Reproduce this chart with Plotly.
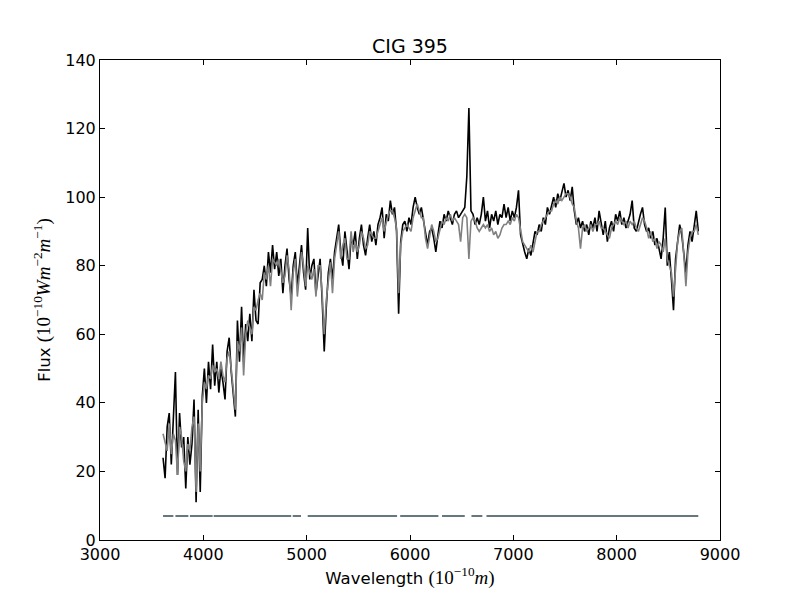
# ── 1. Imports ────────────────────────────────
import numpy as np
import plotly.graph_objects as go

# ── 2. Data ──
# wavelength grid, Angstrom, 20 A step
wave = np.arange(3610, 8800, 20)

flux_obs = [
    24, 18, 33, 37, 22, 34, 49, 19, 37, 27, 30, 15, 30, 22, 28, 41, 11, 38, 14, 42,
    50, 40, 52, 44, 57, 45, 52, 43, 50, 46, 41, 55, 59, 49, 42, 36, 64, 52, 68, 52,
    63, 58, 66, 58, 73, 64, 63, 75, 76, 80, 74, 84, 78, 86, 79, 84, 77, 82, 72, 80,
    85, 76, 71, 80, 84, 74, 80, 86, 78, 73, 91, 76, 80, 82, 72, 78, 82, 70, 55, 68,
    78, 82, 76, 84, 88, 92, 84, 80, 90, 84, 79, 88, 86, 90, 82, 88, 92, 86, 83, 88,
    92, 87, 90, 86, 92, 94, 97, 88, 95, 93, 99, 95, 97, 90, 66, 87, 92, 93, 90, 94,
    92, 97, 100, 97, 95, 97, 93, 89, 86, 90, 91, 88, 84, 89, 93, 91, 95, 93, 96, 94,
    92, 95, 96, 94, 95, 96, 97, 106, 126, 96, 95, 92, 94, 92, 95, 100, 93, 96, 91, 95,
    93, 96, 92, 95, 94, 98, 94, 97, 93, 96, 94, 97, 102, 89, 86, 84, 82, 85, 83, 86,
    90, 89, 92, 90, 94, 92, 97, 95, 98, 100, 97, 101, 99, 102, 104, 100, 102, 99, 103, 96,
    92, 94, 91, 93, 90, 92, 89, 93, 91, 94, 90, 96, 92, 89, 93, 87, 91, 93, 90, 95,
    93, 96, 92, 94, 91, 93, 95, 99, 91, 90, 93, 95, 97, 92, 90, 91, 88, 90, 86, 88,
    85, 82, 88, 97, 80, 84, 76, 67, 82, 88, 92, 89, 84, 78, 86, 90, 87, 92, 96, 90,
]

flux_mod = [
    31, 28, 26, 34, 25, 31, 29, 19, 33, 30, 23, 20, 28, 26, 33, 36, 14, 34, 20, 40,
    46, 44, 48, 47, 51, 49, 50, 47, 52, 48, 46, 53, 55, 50, 44, 38, 58, 55, 62, 48,
    60, 64, 62, 60, 68, 67, 70, 72, 70, 78, 76, 80, 74, 82, 81, 80, 82, 78, 75, 77,
    83, 79, 67, 78, 82, 71, 77, 84, 80, 74, 80, 78, 76, 79, 71, 80, 80, 72, 60, 70,
    76, 81, 72, 82, 86, 90, 82, 86, 88, 82, 82, 90, 84, 87, 84, 86, 90, 88, 85, 86,
    90, 89, 88, 88, 90, 92, 94, 90, 93, 95, 96, 96, 94, 91, 72, 86, 90, 91, 92, 91,
    90, 94, 96, 98, 96, 94, 94, 88, 85, 89, 92, 90, 87, 88, 91, 93, 92, 94, 93, 95,
    93, 94, 93, 92, 87, 94, 95, 94, 82, 93, 94, 93, 91, 90, 91, 92, 91, 92, 90, 91,
    89, 90, 88, 89, 91, 92, 92, 93, 92, 94, 93, 95, 94, 90, 87, 86, 85, 84, 86, 84,
    87, 90, 90, 92, 93, 94, 95, 96, 96, 98, 99, 98, 100, 99, 100, 101, 101, 100, 98, 97,
    93, 91, 85, 91, 92, 90, 91, 92, 90, 92, 92, 93, 91, 91, 90, 89, 88, 91, 92, 93,
    92, 94, 93, 92, 93, 91, 93, 92, 93, 91, 90, 92, 94, 93, 91, 88, 90, 87, 88, 85,
    87, 86, 84, 88, 82, 80, 78, 71, 80, 87, 90, 91, 83, 74, 84, 88, 90, 90, 92, 89,
]

# good-pixel mask segments drawn at a constant level
mask_start = [3610, 3730, 3870, 4100, 4865, 5010, 5905, 6310, 6595, 6740]
mask_end   = [3710, 3855, 4090, 4850, 4945, 5875, 6275, 6530, 6700, 8790]
mask_level = 7

mask_x, mask_y = [], []
for a, b in zip(mask_start, mask_end):
    mask_x += [a, b, None]
    mask_y += [mask_level, mask_level, None]

# math-style pieces of the axis labels (serif, like matplotlib mathtext)
SERIF = "<span style='font-family:Liberation Serif;font-size:19px'>{}</span>"
x_label = "Wavelength " + SERIF.format("(10<sup>−10</sup><i>m</i>)")
y_label = "Flux " + SERIF.format("(10<sup>−10</sup><i>Wm</i><sup>−2</sup><i>m</i><sup>−1</sup>)")

# ── 3. Figure ─────────────────────────────────
fig = go.Figure()
fig.add_trace(go.Scatter(x=wave, y=flux_obs, mode="lines",
                         line=dict(color="black", width=1.6)))
fig.add_trace(go.Scatter(x=wave, y=flux_mod, mode="lines",
                         line=dict(color="#808080", width=1.6)))
fig.add_trace(go.Scatter(x=mask_x, y=mask_y, mode="lines",
                         line=dict(color="#66777d", width=2)))

axis_style = dict(showline=True, linecolor="black", linewidth=1, mirror="allticks",
                  ticks="inside", ticklen=5, tickcolor="black", showgrid=False,
                  zeroline=False, tickfont=dict(size=16, color="black"))

# page body adds an 8px offset, margins compensate for it
fig.update_layout(
    width=800, height=600,
    paper_bgcolor="white", plot_bgcolor="white",
    margin=dict(l=92, r=88, t=52, b=68),
    showlegend=False,
    font=dict(family="DejaVu Sans", color="black"),
    title=dict(text="CIG 395", x=0.5025, xanchor="center", y=0.936, yanchor="middle",
               font=dict(size=19)),
    xaxis=dict(range=[3000, 9000], tickvals=list(range(3000, 9001, 1000)),
               title=dict(text=x_label, font=dict(size=16.5), standoff=6),
               **axis_style),
    yaxis=dict(range=[0, 140], tickvals=list(range(0, 141, 20)),
               title=dict(text=y_label, font=dict(size=16.5), standoff=10),
               **axis_style),
)

fig.write_html("out.html")
